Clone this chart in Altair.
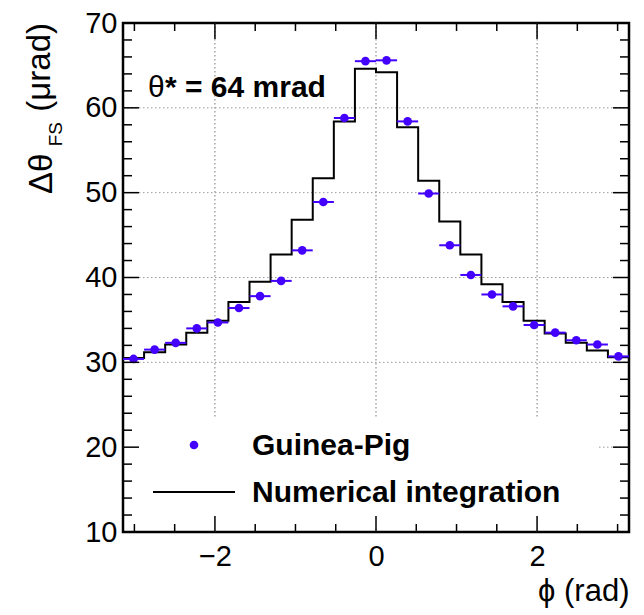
import altair as alt
import numpy as np
import pandas as pd

# ---- data ----
n_bins = 24
guinea_pig = [30.4, 31.5, 32.3, 34.0, 34.7, 36.4, 37.8, 39.6, 43.2, 48.9, 58.8, 65.5,
              65.6, 58.4, 49.9, 43.8, 40.3, 38.0, 36.6, 34.4, 33.5, 32.6, 32.1, 30.7]
numerical = [30.5, 31.2, 32.1, 33.5, 34.9, 37.1, 39.5, 42.7, 46.8, 51.7, 58.4, 64.6,
             64.2, 57.7, 51.4, 46.6, 42.7, 39.2, 37.1, 34.9, 33.4, 32.3, 31.4, 30.6]
x_major = [-2, 0, 2]
x_minor = [-3, -2.5, -1.5, -1, -0.5, 0.5, 1, 1.5, 2.5, 3]
y_major = [10, 20, 30, 40, 50, 60, 70]
y_minor = [12, 14, 16, 18, 22, 24, 26, 28, 32, 34, 36, 38, 42, 44, 46, 48,
           52, 54, 56, 58, 62, 64, 66, 68]
y_grid = [20, 30, 40, 50, 60]

edges = np.linspace(-np.pi, np.pi, n_bins + 1)
lo, hi = edges[:-1], edges[1:]
centers = (lo + hi) / 2

W, H = 506, 509
FONT = "Liberation Sans"
BLUE = "#4400ff"

pts = pd.DataFrame({"phi": centers, "lo": lo, "hi": hi, "v": guinea_pig})
step = pd.DataFrame({"phi": edges, "v": numerical + [numerical[-1]]})

xs = alt.Scale(domain=[-np.pi, np.pi], nice=False, zero=False)
ys = alt.Scale(domain=[10, 70], nice=False, zero=False)

one = pd.DataFrame({"a": [0]})

grid_x = alt.Chart(pd.DataFrame({"x": x_major})).mark_rule(
    color="#777", strokeDash=[1.5, 2.5], strokeWidth=1
).encode(x=alt.X("x:Q", scale=xs), y=alt.value(0), y2=alt.value(H))

grid_y = alt.Chart(pd.DataFrame({"y": y_grid})).mark_rule(
    color="#999", strokeDash=[1.5, 2.5], strokeWidth=1
).encode(y=alt.Y("y:Q", scale=ys), x=alt.value(0), x2=alt.value(W))

legend_bg = alt.Chart(one).mark_rect(fill="white", stroke=None).encode(
    x=alt.value(2), x2=alt.value(475), y=alt.value(395), y2=alt.value(H - 2)
)

line = alt.Chart(step).mark_line(
    interpolate="step-after", color="black", strokeWidth=2
).encode(
    x=alt.X("phi:Q", scale=xs,
            axis=alt.Axis(values=x_major, format="~g", title="ϕ (rad)", titleAnchor="end",
                          labelFlush=False)),
    y=alt.Y("v:Q", scale=ys, axis=alt.Axis(values=y_major, format="~g", title=None)),
)

errs = alt.Chart(pts).mark_rule(color=BLUE, strokeWidth=2).encode(
    x=alt.X("lo:Q", scale=xs), x2="hi:Q", y=alt.Y("v:Q", scale=ys)
)
dots = alt.Chart(pts).mark_point(filled=True, color=BLUE, size=75, opacity=1).encode(
    x=alt.X("phi:Q", scale=xs), y=alt.Y("v:Q", scale=ys)
)


def xticks(vals, length, top):
    y0 = 0 if top else H
    y1 = length if top else H - length
    return alt.Chart(pd.DataFrame({"x": vals})).mark_rule(color="black", strokeWidth=1.5).encode(
        x=alt.X("x:Q", scale=xs), y=alt.value(y0), y2=alt.value(y1))


def yticks(vals, length, right):
    x0 = W if right else 0
    x1 = W - length if right else length
    return alt.Chart(pd.DataFrame({"y": vals})).mark_rule(color="black", strokeWidth=1.5).encode(
        y=alt.Y("y:Q", scale=ys), x=alt.value(x0), x2=alt.value(x1))


ticks = [xticks(x_major, 16, False), xticks(x_minor, 8, False),
         xticks(x_major, 16, True), xticks(x_minor, 8, True),
         yticks(y_major, 16, False), yticks(y_minor, 9, False),
         yticks(y_major, 16, True), yticks(y_minor, 9, True)]


def txt(s, x, y, size, weight="normal", angle=0, align="left", baseline="alphabetic"):
    kw = dict(text=s, font=FONT, fontSize=size, fontWeight=weight, align=align,
              baseline=baseline, color="black")
    if angle:
        kw["angle"] = angle
    return alt.Chart(one).mark_text(**kw).encode(x=alt.value(x), y=alt.value(y))


texts = [
    txt("θ", 25, 74, 30),
    txt("* = 64 mrad", 42, 74, 30, "bold"),
    txt("Guinea-Pig", 129, 432, 30, "bold"),
    txt("Numerical integration", 129, 479, 30, "bold"),
    txt("Δθ", -71, 171, 33, angle=270, align="left"),
    txt("FS", -61, 99, 19, angle=270, align="right"),
    txt("(μrad)", -73, 0, 33, angle=270, align="right"),
]

leg_dot = alt.Chart(one).mark_point(filled=True, color=BLUE, size=75, opacity=1).encode(
    x=alt.value(71), y=alt.value(422))
leg_line = alt.Chart(one).mark_rule(color="black", strokeWidth=2).encode(
    x=alt.value(30), x2=alt.value(112), y=alt.value(469))

chart = alt.layer(
    grid_x, grid_y, legend_bg, line, errs, dots, *ticks, leg_dot, leg_line, *texts
).properties(
    width=W, height=H,
    autosize=alt.AutoSizeParams(type="none"),
    padding={"left": 115, "top": 15, "right": 7, "bottom": 82},
).configure_view(
    stroke="black", strokeWidth=2.5
).configure_axis(
    grid=False, ticks=False, domain=False,
    labelFont=FONT, labelFontSize=29, labelColor="black",
    titleFont=FONT, titleFontSize=31, titleFontWeight="normal", titleColor="black",
).configure_axisX(
    labelPadding=10, titlePadding=5
).configure_axisY(
    labelPadding=6
)

chart.save("out.html", embed_options={"renderer": "svg", "actions": False})
